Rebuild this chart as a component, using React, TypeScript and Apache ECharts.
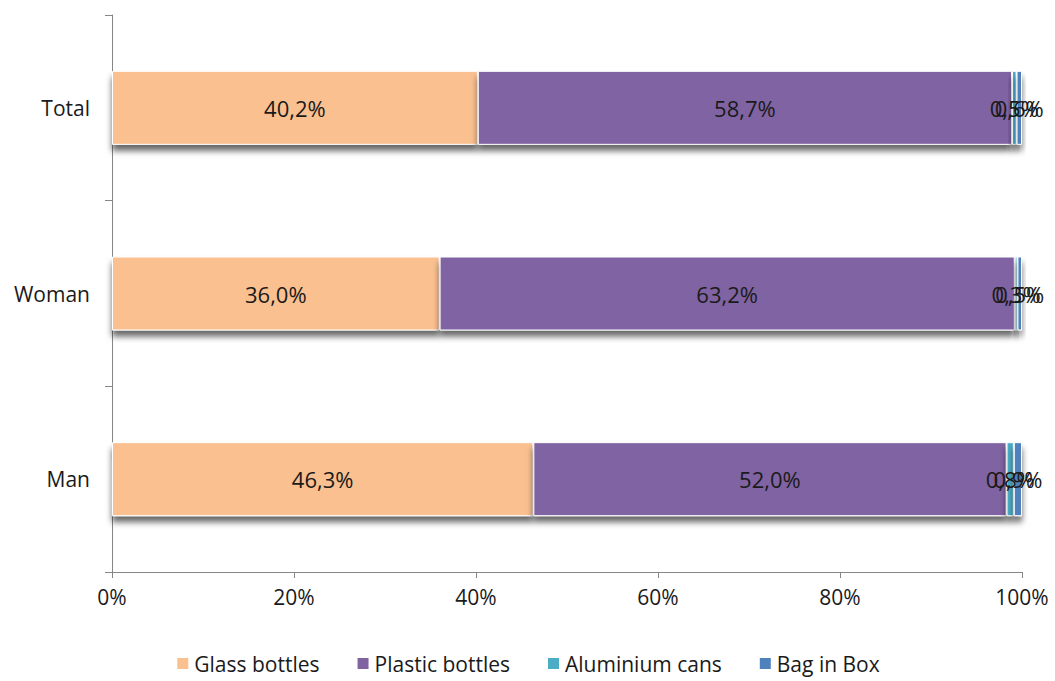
import React, { useEffect, useRef } from "react";
import * as echarts from "echarts";

// Bottom-to-top order for the category axis
const groups = ["Man", "Woman", "Total"];
const glassBottles = [46.3, 36.0, 40.2];
const plasticBottles = [52.0, 63.2, 58.7];
const aluminiumCans = [0.8, 0.3, 0.5];
const bagInBox = [0.9, 0.5, 0.6];
const xTicks = [0, 20, 40, 60, 80, 100];

const FONT = "'Open Sans', Lato, sans-serif";

export default function App() {
  const ref = useRef<HTMLDivElement>(null);

  useEffect(() => {
    if (!ref.current) return;
    const chart = echarts.init(ref.current, undefined, { renderer: "svg" });
    const fmt = (v: number) => v.toFixed(1).replace(".", ",") + "%";
    const mk = (name: string, data: number[], color: string) => ({
      name,
      type: "bar",
      stack: "share",
      barWidth: 74,
      data,
      itemStyle: {
        color,
        borderColor: "#ffffff",
        borderWidth: 1,
        shadowColor: "rgba(0,0,0,0.6)",
        shadowBlur: 6,
        shadowOffsetY: 6,
      },
      label: {
        show: true,
        position: "inside",
        color: "#1a1a1a",
        fontFamily: FONT,
        fontSize: 22,
        formatter: (p: any) => fmt(p.value),
      },
    });
    chart.setOption({
      animation: false,
      textStyle: { fontFamily: FONT },
      grid: { left: 112, right: 33, top: 15, bottom: 109 },
      legend: {
        bottom: 2,
        left: "center",
        itemWidth: 13,
        itemHeight: 13,
        itemGap: 36,
        icon: "rect",
        textStyle: { fontSize: 21, color: "#1a1a1a", fontFamily: FONT },
        data: ["Glass bottles", "Plastic bottles", "Aluminium cans", "Bag in Box"],
      },
      xAxis: {
        type: "value",
        min: xTicks[0],
        max: xTicks[xTicks.length - 1],
        interval: 20,
        axisLine: { show: true, lineStyle: { color: "#868686" } },
        axisTick: { show: true, length: 6, lineStyle: { color: "#868686" } },
        splitLine: { show: false },
        axisLabel: {
          formatter: (v: number) => v + "%",
          fontSize: 21,
          color: "#1a1a1a",
          margin: 14,
          fontFamily: FONT,
        },
      },
      yAxis: {
        type: "category",
        data: groups,
        axisLine: { show: true, lineStyle: { color: "#868686" } },
        axisTick: { show: true, length: 7, lineStyle: { color: "#868686" } },
        axisLabel: { fontSize: 21, color: "#1a1a1a", margin: 22, fontFamily: FONT },
      },
      series: [
        mk("Glass bottles", glassBottles, "#FAC090"),
        mk("Plastic bottles", plasticBottles, "#8064A2"),
        mk("Aluminium cans", aluminiumCans, "#4BACC6"),
        mk("Bag in Box", bagInBox, "#4F81BD"),
      ],
    });
    return () => chart.dispose();
  }, []);

  return (
    <div
      ref={ref}
      style={{ position: "fixed", left: 0, top: 0, width: 1055, height: 681, background: "#fff" }}
    />
  );
}
